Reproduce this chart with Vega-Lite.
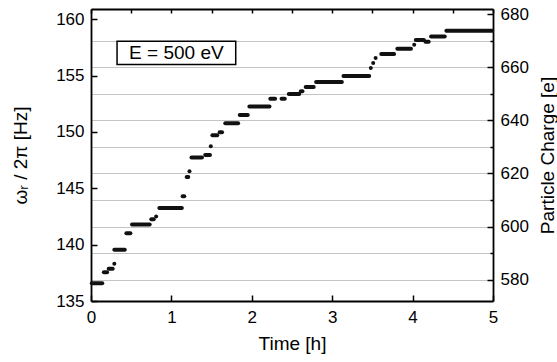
{
  "$schema": "https://vega.github.io/schema/vega-lite/v6.json",
  "width": 402,
  "height": 292,
  "autosize": {"type": "none"},
  "padding": {"left": 91, "top": 9, "right": 64, "bottom": 61},
  "background": "white",
  "config": {
    "view": {"stroke": null},
    "font": "Liberation Sans",
    "axis": {
      "labelFont": "Liberation Sans",
      "titleFont": "Liberation Sans",
      "labelColor": "#000",
      "titleColor": "#000",
      "titleFontWeight": "normal",
      "domainColor": "#000",
      "tickColor": "#000",
      "domainWidth": 1.8,
      "tickWidth": 1.5,
      "labelFontSize": 17,
      "titleFontSize": 19
    }
  },
  "datasets": {
    "seg": [
      {"t0": 0.01, "t1": 0.14, "f": 136.58},
      {"t0": 0.16, "t1": 0.20, "f": 137.55},
      {"t0": 0.22, "t1": 0.27, "f": 137.85},
      {"t0": 0.29, "t1": 0.29, "f": 138.3},
      {"t0": 0.29, "t1": 0.42, "f": 139.54},
      {"t0": 0.44, "t1": 0.49, "f": 141.0},
      {"t0": 0.51, "t1": 0.73, "f": 141.78},
      {"t0": 0.75, "t1": 0.78, "f": 142.25},
      {"t0": 0.81, "t1": 0.81, "f": 142.5},
      {"t0": 0.85, "t1": 1.13, "f": 143.26},
      {"t0": 1.14, "t1": 1.16, "f": 144.3},
      {"t0": 1.19, "t1": 1.21, "f": 146.0},
      {"t0": 1.225, "t1": 1.225, "f": 146.5},
      {"t0": 1.25, "t1": 1.38, "f": 147.72},
      {"t0": 1.42, "t1": 1.48, "f": 147.96},
      {"t0": 1.49, "t1": 1.49, "f": 148.72},
      {"t0": 1.51, "t1": 1.57, "f": 149.7},
      {"t0": 1.60, "t1": 1.63, "f": 149.97},
      {"t0": 1.67, "t1": 1.83, "f": 150.76},
      {"t0": 1.85, "t1": 1.95, "f": 151.5},
      {"t0": 1.97, "t1": 2.22, "f": 152.25},
      {"t0": 2.23, "t1": 2.29, "f": 152.93},
      {"t0": 2.37, "t1": 2.41, "f": 152.93},
      {"t0": 2.46, "t1": 2.59, "f": 153.37},
      {"t0": 2.61, "t1": 2.63, "f": 153.6},
      {"t0": 2.67, "t1": 2.77, "f": 153.99},
      {"t0": 2.80, "t1": 3.12, "f": 154.43},
      {"t0": 3.14, "t1": 3.46, "f": 154.95},
      {"t0": 3.48, "t1": 3.48, "f": 155.67},
      {"t0": 3.51, "t1": 3.51, "f": 156.1},
      {"t0": 3.54, "t1": 3.54, "f": 156.56},
      {"t0": 3.61, "t1": 3.77, "f": 156.91},
      {"t0": 3.81, "t1": 3.98, "f": 157.38},
      {"t0": 4.02, "t1": 4.02, "f": 157.74},
      {"t0": 4.04, "t1": 4.14, "f": 158.15},
      {"t0": 4.16, "t1": 4.20, "f": 158.0},
      {"t0": 4.23, "t1": 4.40, "f": 158.45},
      {"t0": 4.42, "t1": 4.99, "f": 158.97}
    ],
    "note": [
      {"x0": 0.324, "x1": 1.80, "y0": 155.97, "y1": 158.03, "xc": 1.062, "yc": 157.0, "label": "E = 500 eV"}
    ],
    "charge": [{"c": 580}],
    "top": [{"t": 0}]
  },
  "layer": [
    {
      "layer": [
        {
          "data": {"name": "seg"},
          "mark": {"type": "rule", "strokeWidth": 4, "strokeCap": "round", "color": "#111"},
          "encoding": {
            "x": {
              "field": "t0", "type": "quantitative", "title": "Time [h]",
              "scale": {"domain": [0, 5], "nice": false, "zero": false},
              "axis": {
                "orient": "bottom",
                "values": [0, 0.5, 1, 1.5, 2, 2.5, 3, 3.5, 4, 4.5, 5],
                "format": "d",
                "labelExpr": "datum.value % 1 == 0 ? datum.label : ''",
                "tickSize": {"condition": {"test": "datum.value % 1 == 0", "value": -6}, "value": -3},
                "labelPadding": 14,
                "titlePadding": 9,
                "grid": false,
                "labelFlush": false
              }
            },
            "x2": {"field": "t1"},
            "y": {
              "field": "f", "type": "quantitative", "title": "ωᵣ / 2π  [Hz]",
              "scale": {"domain": [135, 160.9], "nice": false, "zero": false},
              "axis": {
                "orient": "left",
                "values": [135, 137.5, 140, 142.5, 145, 147.5, 150, 152.5, 155, 157.5, 160],
                "format": "d",
                "labelExpr": "datum.value % 5 == 0 ? datum.label : ''",
                "tickSize": {"condition": {"test": "datum.value % 5 == 0", "value": -6}, "value": -3},
                "labelPadding": 13,
                "titlePadding": 25,
                "grid": false,
                "labelFlush": false
              }
            }
          }
        },
        {
          "data": {"name": "note"},
          "mark": {"type": "rect", "fill": "white", "stroke": "black", "strokeWidth": 1.5},
          "encoding": {
            "x": {"field": "x0", "type": "quantitative", "title": "Time [h]"},
            "x2": {"field": "x1"},
            "y": {"field": "y0", "type": "quantitative", "title": "ωᵣ / 2π  [Hz]"},
            "y2": {"field": "y1"}
          }
        },
        {
          "data": {"name": "note"},
          "mark": {"type": "text", "fontSize": 19, "font": "Liberation Sans", "color": "#000"},
          "encoding": {
            "x": {"field": "xc", "type": "quantitative", "title": "Time [h]"},
            "y": {"field": "yc", "type": "quantitative", "title": "ωᵣ / 2π  [Hz]"},
            "text": {"field": "label"}
          }
        }
      ]
    },
    {
      "data": {"name": "charge"},
      "mark": {"type": "point", "opacity": 0},
      "encoding": {
        "y": {
          "field": "c", "type": "quantitative", "title": "Particle Charge [e]",
          "scale": {"domain": [572, 681.9], "nice": false, "zero": false},
          "axis": {
            "orient": "right",
            "values": [580, 590, 600, 610, 620, 630, 640, 650, 660, 670, 680],
            "format": "d",
            "labelExpr": "datum.value % 20 == 0 ? datum.label : ''",
            "tickSize": {"condition": {"test": "datum.value % 20 == 0", "value": -6}, "value": -3},
            "labelPadding": 13,
            "titlePadding": 10,
            "titleAngle": -90,
            "titleBaseline": "top",
            "grid": true,
            "gridColor": "#c4c4c4",
            "gridWidth": 1,
            "gridOpacity": {"condition": {"test": "datum.value >= 680", "value": 0}, "value": 1},
            "labelFlush": false
          }
        }
      }
    },
    {
      "data": {"name": "top"},
      "mark": {"type": "point", "opacity": 0},
      "encoding": {
        "x": {
          "field": "t", "type": "quantitative",
          "scale": {"domain": [0, 5], "nice": false, "zero": false},
          "axis": {
            "orient": "top",
            "values": [0, 0.5, 1, 1.5, 2, 2.5, 3, 3.5, 4, 4.5, 5],
            "labels": false,
            "title": null,
            "tickSize": -4,
            "grid": false
          }
        }
      }
    }
  ],
  "resolve": {"scale": {"y": "independent"}, "axis": {"x": "independent", "y": "independent"}}
}
